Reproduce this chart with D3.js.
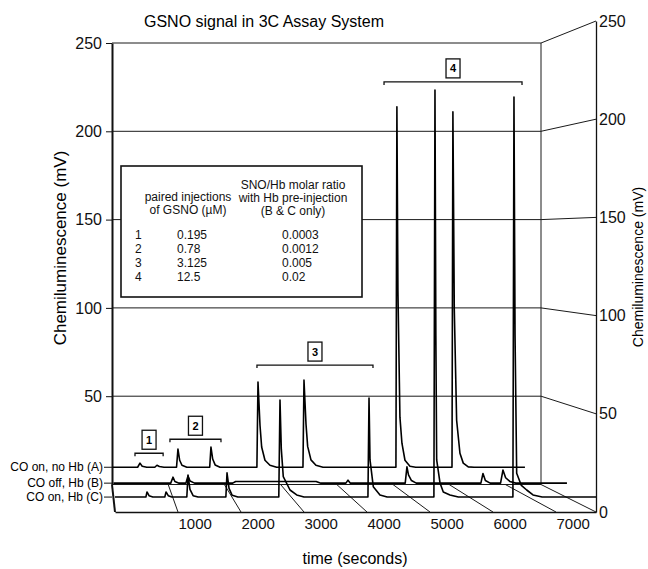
<!DOCTYPE html>
<html>
<head>
<meta charset="utf-8">
<title>GSNO signal in 3C Assay System</title>
<script src="https://d3js.org/d3.v7.min.js"></script>
<style>
  html, body { margin: 0; padding: 0; background: #fff; }
  svg { display: block; font-family: "Liberation Sans", Arial, Helvetica, sans-serif; }
  .axis path, .axis line { stroke: #111; }
  .axis text { fill: #111; }
</style>
</head>
<body>
<div class="chart"></div>
<script>
'use strict';

// Tick values
var X_TICKS = [1000, 2000, 3000, 4000, 5000, 6000, 7000];
var Y_TICKS = [50, 100, 150, 200, 250];
var R_TICKS = [0, 50, 100, 150, 200, 250];

// Series names, back to front
var SERIES_NAMES = ['CO on, no Hb (A)', 'CO off, Hb (B)', 'CO on, Hb (C)'];

// [time (s), chemiluminescence (mV)]
var seriesA = [
  [0, 11.9], [440, 11.9], [481, 14.2], [520, 12.5], [600, 11.9],
  [740, 11.9], [778, 13.0], [820, 12.3], [900, 11.9],
  [1120, 11.9], [1145, 22.0], [1175, 15.8], [1215, 13.0], [1300, 11.9],
  [1700, 11.9], [1722, 23.1], [1752, 16.5], [1795, 13.2], [1880, 11.9],
  [2525, 11.9], [2544, 59.4], [2579, 35.3], [2608, 23.2], [2666, 15.8], [2753, 13.0], [2870, 11.9],
  [3330, 11.9], [3348, 60.4], [3383, 36.0], [3412, 23.5], [3470, 16.0], [3557, 13.0], [3680, 11.9],
  [4955, 11.9], [4972, 212.6], [4990, 110], [5025, 39.8], [5060, 25.3], [5113, 15.8], [5200, 12.5], [5300, 11.9],
  [5935, 11.9], [5951, 209.8], [5975, 100], [6016, 38.1], [6074, 19.7], [6132, 14.2], [6219, 12.1], [6320, 11.9],
  [7210, 11.9]
];

var seriesB = [
  [0, 8.1], [960, 8.1], [998, 11.3], [1030, 9.0], [1100, 8.1],
  [1215, 8.1], [1250, 11.9], [1285, 9.2], [1360, 8.1],
  [2000, 8.1], [2050, 9.0], [3400, 9.0], [3480, 8.1],
  [3900, 8.1], [3935, 9.7], [3975, 8.1],
  [4895, 8.1], [4924, 16.8], [4950, 12.5], [5000, 9.5], [5080, 8.1],
  [6165, 8.1], [6200, 13.3], [6240, 9.5], [6320, 8.1],
  [6495, 8.1], [6535, 15.1], [6580, 11.0], [6650, 9.0], [6750, 8.1],
  [7609, 8.1]
];

var seriesC = [
  [0, 7.6], [490, 7.6], [508, 10.2], [540, 8.3], [600, 7.6],
  [790, 7.6], [810, 10.2], [845, 8.3], [900, 7.6],
  [1140, 7.6], [1159, 18.8], [1190, 11.5], [1240, 8.3], [1320, 7.6],
  [1760, 7.6], [1778, 19.9], [1810, 12.0], [1860, 8.5], [1950, 7.6],
  [2600, 7.6], [2619, 57.0], [2640, 32.0], [2671, 18.0], [2778, 11.2], [2884, 8.7], [3000, 7.6],
  [4015, 7.6], [4032, 58.0], [4048, 26.5], [4100, 12.9], [4206, 8.7], [4320, 7.6],
  [5062, 7.6], [5079, 214.9], [5093, 90], [5106, 26.5], [5159, 14.8], [5211, 10.2], [5317, 8.7], [5450, 7.6],
  [6316, 7.6], [6333, 211.3], [6350, 90], [6376, 19.7], [6450, 13.5], [6535, 11.2], [6635, 8.7], [6780, 7.6],
  [7635, 7.6]
];

// Injection groups: label, start (s), end (s), level (mV)
var GROUP_LABELS = ['1', '2', '3', '4'];
var GROUP_START = [394, 1005, 2526, 4747];
var GROUP_END = [886, 1897, 4554, 7159];
var GROUP_LEVEL = [19.7, 27.5, 68.8, 226.5];

// Inset table
var GSNO_UM = ['0.195', '0.78', '3.125', '12.5'];
var SNO_HB_RATIO = ['0.0003', '0.0012', '0.005', '0.02'];

(function() {
  var w = 648;
  var h = 569;
  var tMax = 7635;
  // depth of each series: 0 = back wall, 1 = front plane
  var depth = [0.15, 0.5, 1];

  var xBack = d3.scaleLinear().domain([0, tMax]).range([112, 541]);
  var xFront = d3.scaleLinear().domain([0, tMax]).range([115, 596]);
  var yBack = d3.scaleLinear().domain([0, 250]).range([484.5, 43]);
  var yFront = d3.scaleLinear().domain([0, 250]).range([512, 21]);

  var px = function(t, d) { return xBack(t) + (xFront(t) - xBack(t)) * d; };
  var py = function(v, d) { return yBack(v) + (yFront(v) - yBack(v)) * d; };

  var svg = d3.select('.chart')
    .append('svg')
    .attr('width', w)
    .attr('height', h);

  // Title
  svg.append('text')
    .attr('x', 264)
    .attr('y', 27)
    .attr('text-anchor', 'middle')
    .attr('font-size', 16)
    .text('GSNO signal in 3C Assay System');

  // Walls and floor
  var frame = svg.append('g')
    .attr('stroke', '#1a1a1a')
    .attr('stroke-width', 1)
    .attr('fill', 'none');

  // back wall gridlines
  frame.selectAll('.hgrid')
    .data(Y_TICKS)
    .enter()
    .append('line')
    .attr('x1', xBack(0))
    .attr('x2', xBack(tMax))
    .attr('y1', function(d) { return yBack(d); })
    .attr('y2', function(d) { return yBack(d); });

  // side wall gridlines
  frame.selectAll('.sgrid')
    .data(R_TICKS)
    .enter()
    .append('line')
    .attr('x1', xBack(tMax))
    .attr('y1', function(d) { return yBack(d); })
    .attr('x2', xFront(tMax))
    .attr('y2', function(d) { return yFront(d); });

  // back floor edge + back right edge
  frame.append('line')
    .attr('x1', xBack(0)).attr('y1', yBack(0))
    .attr('x2', xBack(tMax)).attr('y2', yBack(0));
  frame.append('line')
    .attr('x1', xBack(tMax)).attr('y1', yBack(0))
    .attr('x2', xBack(tMax)).attr('y2', yBack(250));

  // floor lines along time ticks
  frame.selectAll('.fgrid')
    .data(X_TICKS)
    .enter()
    .append('line')
    .attr('x1', function(d) { return xBack(d); })
    .attr('y1', yBack(0))
    .attr('x2', function(d) { return xFront(d); })
    .attr('y2', yFront(0));

  // Left axis
  svg.append('g')
    .attr('class', 'axis')
    .attr('transform', 'translate(' + xBack(0) + ',0)')
    .call(d3.axisLeft(yBack).tickValues(Y_TICKS).tickSize(6).tickSizeOuter(0).tickPadding(4))
    .call(function(g) {
      g.select('.domain').attr('stroke-width', 2);
      g.selectAll('text').attr('font-size', 16).attr('font-family', null);
    });
  svg.append('line')
    .attr('x1', xBack(0)).attr('y1', yBack(0))
    .attr('x2', xFront(0)).attr('y2', yFront(0))
    .attr('stroke', '#111')
    .attr('stroke-width', 2);

  // Right axis (front plane)
  svg.append('g')
    .attr('class', 'axis')
    .attr('transform', 'translate(' + xFront(tMax) + ',0)')
    .call(d3.axisRight(yFront).tickValues(R_TICKS).tickSize(0).tickPadding(3))
    .call(function(g) {
      g.select('.domain').attr('stroke-width', 1.3);
      g.selectAll('text').attr('font-size', 16).attr('font-family', null);
    });

  // Time axis (front edge)
  svg.append('g')
    .attr('class', 'axis')
    .attr('transform', 'translate(0,' + yFront(0) + ')')
    .call(d3.axisBottom(xFront).tickValues(X_TICKS).tickFormat(d3.format('d'))
      .tickSize(0).tickSizeOuter(0).tickPadding(6))
    .call(function(g) {
      g.select('.domain').attr('stroke-width', 1.5);
      g.selectAll('text')
        .attr('font-size', 15)
        .attr('font-family', null)
        .attr('text-anchor', 'start');
    });

  // Axis titles
  svg.append('text')
    .attr('transform', 'translate(66,248) rotate(-90)')
    .attr('text-anchor', 'middle')
    .attr('font-size', 17)
    .text('Chemiluminescence (mV)');
  svg.append('text')
    .attr('transform', 'translate(643,267) rotate(-90)')
    .attr('text-anchor', 'middle')
    .attr('font-size', 14)
    .text('Chemiluminescence (mV)');
  svg.append('text')
    .attr('x', 355)
    .attr('y', 564)
    .attr('text-anchor', 'middle')
    .attr('font-size', 16)
    .text('time (seconds)');

  // Inset table
  var inset = svg.append('g').attr('font-size', 12).attr('fill', '#111');
  inset.append('rect')
    .attr('x', 121).attr('y', 166)
    .attr('width', 241).attr('height', 131)
    .attr('fill', '#fff')
    .attr('stroke', '#111')
    .attr('stroke-width', 1.6);
  inset.append('text').attr('x', 188).attr('y', 201).attr('text-anchor', 'middle').text('paired injections');
  inset.append('text').attr('x', 188).attr('y', 214).attr('text-anchor', 'middle').text('of GSNO (\u00b5M)');
  inset.append('text').attr('x', 293).attr('y', 189).attr('text-anchor', 'middle').text('SNO/Hb molar ratio');
  inset.append('text').attr('x', 293).attr('y', 202).attr('text-anchor', 'middle').text('with Hb pre-injection');
  inset.append('text').attr('x', 293).attr('y', 215).attr('text-anchor', 'middle').text('(B & C only)');

  var rows = inset.selectAll('.row')
    .data(GROUP_LABELS)
    .enter()
    .append('g')
    .attr('transform', function(d, i) { return 'translate(0,' + (239 + i * 14) + ')'; });
  rows.append('text').attr('x', 135).text(function(d) { return d; });
  rows.append('text').attr('x', 177).text(function(d, i) { return GSNO_UM[i]; });
  rows.append('text').attr('x', 282).text(function(d, i) { return SNO_HB_RATIO[i]; });

  // Traces, back to front
  var allSeries = [seriesA, seriesB, seriesC];
  allSeries.forEach(function(data, k) {
    var line = d3.line()
      .x(function(d) { return px(d[0], depth[k]); })
      .y(function(d) { return py(d[1], depth[k]); });
    svg.append('path')
      .datum(data)
      .attr('d', line)
      .attr('fill', 'none')
      .attr('stroke', '#000')
      .attr('stroke-width', 1.6)
      .attr('stroke-linejoin', 'round');
  });

  // Series labels with little ticks at the left
  var labels = svg.append('g').attr('font-size', 12);
  SERIES_NAMES.forEach(function(name, k) {
    var y0 = py(allSeries[k][0][1], depth[k]);
    labels.append('line')
      .attr('x1', 104).attr('x2', xBack(0))
      .attr('y1', y0).attr('y2', y0)
      .attr('stroke', '#111');
    labels.append('text')
      .attr('x', 103)
      .attr('y', y0 + 4)
      .attr('text-anchor', 'end')
      .text(name);
  });

  // Injection group brackets (drawn on the back trace plane)
  var brackets = svg.append('g');
  GROUP_LABELS.forEach(function(lab, i) {
    var x0 = px(GROUP_START[i], depth[0]);
    var x1 = px(GROUP_END[i], depth[0]);
    var yb = py(GROUP_LEVEL[i], depth[0]);
    var xm = (x0 + x1) / 2;
    brackets.append('path')
      .attr('d', 'M' + x0 + ',' + (yb + 3) + 'V' + yb + 'H' + x1 + 'V' + (yb + 3))
      .attr('fill', 'none')
      .attr('stroke', '#111')
      .attr('stroke-width', 1.3);
    brackets.append('rect')
      .attr('x', xm - 7).attr('y', yb - 23)
      .attr('width', 14).attr('height', 19)
      .attr('fill', '#fff')
      .attr('stroke', '#111')
      .attr('stroke-width', 1.3);
    brackets.append('text')
      .attr('x', xm)
      .attr('y', yb - 9.5)
      .attr('text-anchor', 'middle')
      .attr('font-size', 11)
      .attr('font-weight', 'bold')
      .text(lab);
  });
})();
</script>
</body>
</html>
